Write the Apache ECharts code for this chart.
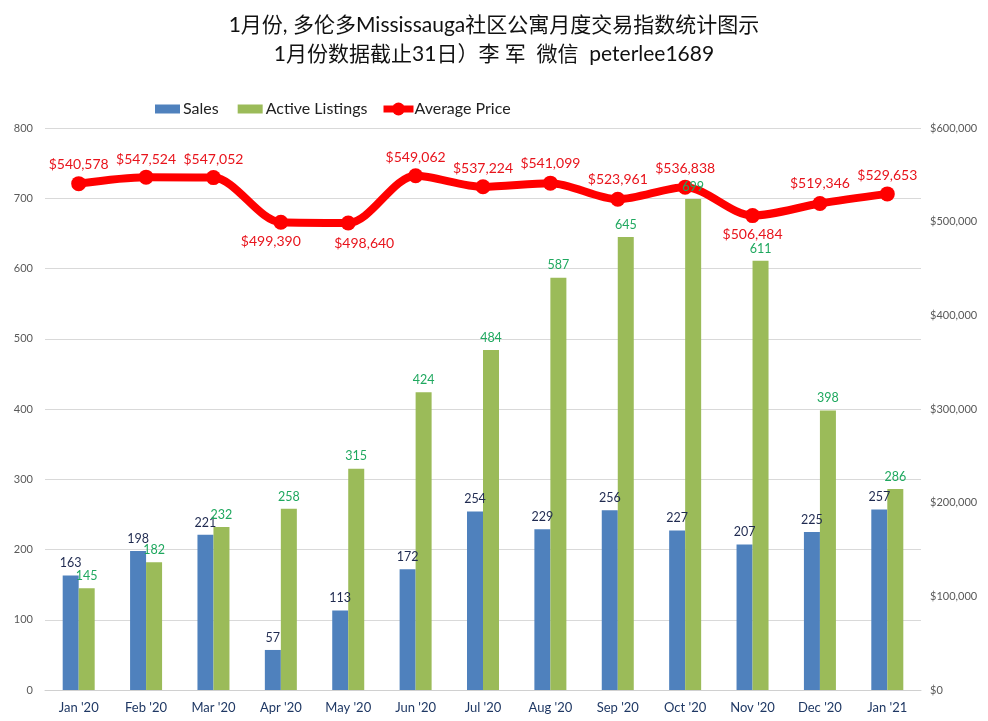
<!DOCTYPE html>
<html>
<head>
<meta charset="utf-8">
<style>
html, body { margin: 0; padding: 0; background: #fff; }
#main { width: 988px; height: 721px; outline: 2px solid #d9d9d9; outline-offset: -2px; }
</style>
<script src="https://cdn.jsdelivr.net/npm/echarts@6/dist/echarts.min.js"></script>
</head>
<body>
<div id="main"></div>
<script>
let months = ["Jan '20", "Feb '20", "Mar '20", "Apr '20", "May '20", "Jun '20", "Jul '20", "Aug '20", "Sep '20", "Oct '20", "Nov '20", "Dec '20", "Jan '21"];
let sales = [163, 198, 221, 57, 113, 172, 254, 229, 256, 227, 207, 225, 257];
let listings = [145, 182, 232, 258, 315, 424, 484, 587, 645, 699, 611, 398, 286];
let price = [540578, 547524, 547052, 499390, 498640, 549062, 537224, 541099, 523961, 536838, 506484, 519346, 529653];

// price labels are placed by hand in the original
let priceOffsets = [[0, -19], [0, -18], [0, -18], [-10, 19], [16, 21], [0, -18], [0, -18], [0, -20], [0, -20], [0, -19], [0, 19], [0, -20], [0, -18]];

let fontName = 'Lato, "Noto Sans CJK SC", sans-serif';

function money(v) {
    return '$' + v.toLocaleString('en-US');
}

var myChart = echarts.init(document.getElementById('main'), null, { renderer: 'canvas' });

var option = {
    backgroundColor: '#fff',
    textStyle: { fontFamily: fontName },
    title: {
        text: '1月份, 多伦多Mississauga社区公寓月度交易指数统计图示\n1月份数据截止31日）李 军  微信  peterlee1689',
        left: 'center',
        top: 6,
        textStyle: { fontFamily: fontName, fontSize: 21, fontWeight: 'normal', color: '#111', lineHeight: 29 }
    },
    legend: [{
        left: 155,
        top: 101,
        padding: 0,
        icon: 'rect',
        itemWidth: 25,
        itemHeight: 9,
        itemGap: 19,
        textStyle: { fontFamily: fontName, fontSize: 16, color: '#222', padding: [0, 0, 0, -2] },
        data: ['Sales', 'Active Listings']
    }, {
        left: 380,
        top: 101,
        padding: 0,
        itemWidth: 30,
        itemHeight: 16,
        textStyle: { fontFamily: fontName, fontSize: 16, color: '#222', padding: [0, 0, 0, -4] },
        data: [{ name: 'Average Price', lineStyle: { width: 7 } }]
    }],
    grid: { left: 45, right: 67, top: 128, bottom: 31 },
    xAxis: [{
        type: 'category',
        data: months,
        axisTick: { show: false },
        axisLine: { lineStyle: { color: '#d0d0d0' } },
        axisLabel: { fontFamily: fontName, fontSize: 13, color: '#1f3864', margin: 11, interval: 0 }
    }],
    yAxis: [{
        type: 'value',
        min: 0,
        max: 800,
        interval: 100,
        axisLine: { show: false },
        axisTick: { show: false },
        splitLine: { lineStyle: { color: '#d9d9d9' } },
        axisLabel: { fontFamily: fontName, fontSize: 11, color: '#595959', margin: 12 }
    }, {
        type: 'value',
        min: 0,
        max: 600000,
        interval: 100000,
        axisLine: { show: false },
        axisTick: { show: false },
        splitLine: { show: false },
        axisLabel: { fontFamily: fontName, fontSize: 11, color: '#595959', margin: 9, formatter: money }
    }],
    series: [
        {
            name: 'Sales',
            type: 'bar',
            data: sales,
            barWidth: 16,
            barGap: 0,
            itemStyle: { color: '#4f81bd' },
            label: { show: true, position: 'top', distance: 6, fontSize: 12.5, color: '#1f2a50' },
            z: 6
        },
        {
            name: 'Active Listings',
            type: 'bar',
            data: listings,
            barWidth: 16,
            itemStyle: { color: '#9bbb59' },
            label: { show: true, position: 'top', distance: 6, fontSize: 12.5, color: '#1fa85f' },
            z: 6
        },
        {
            name: 'Average Price',
            type: 'line',
            yAxisIndex: 1,
            smooth: 0.3,
            symbol: 'circle',
            symbolSize: 15,
            data: price.map(function (v, i) {
                return { value: v, label: { offset: priceOffsets[i] } };
            }),
            lineStyle: { color: '#ff0000', width: 8 },
            itemStyle: { color: '#ff0000' },
            label: {
                show: true,
                position: 'inside',
                fontSize: 14,
                color: '#e8141c',
                formatter: function (p) { return money(p.value); }
            },
            z: 5
        }
    ]
};

myChart.setOption(option);
</script>
</body>
</html>
